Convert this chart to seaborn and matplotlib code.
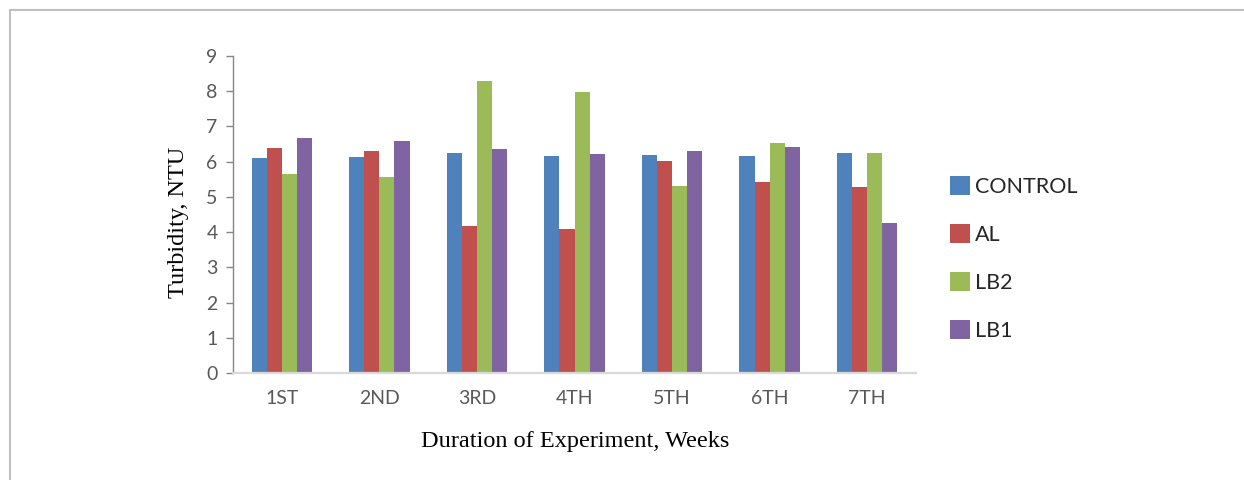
import matplotlib
matplotlib.use("Agg")
import matplotlib.pyplot as plt
from matplotlib.lines import Line2D
from matplotlib.patches import Patch
import seaborn as sns
import pandas as pd

weeks = ["1ST", "2ND", "3RD", "4TH", "5TH", "6TH", "7TH"]
series_names = ["CONTROL", "AL", "LB2", "LB1"]
control = [6.11, 6.13, 6.23, 6.17, 6.19, 6.17, 6.25]
al = [6.39, 6.31, 4.18, 4.09, 6.03, 5.41, 5.27]
lb2 = [5.65, 5.56, 8.27, 7.97, 5.30, 6.54, 6.25]
lb1 = [6.66, 6.59, 6.35, 6.22, 6.29, 6.42, 4.27]
colors = ["#4F81BD", "#C0504D", "#9BBB59", "#8064A2"]

rows = []
for name, vals in zip(series_names, [control, al, lb2, lb1]):
    for w, v in zip(weeks, vals):
        rows.append({"week": w, "series": name, "value": v})
df = pd.DataFrame(rows)

sns.set_theme(style="white")
plt.rcParams["font.family"] = ["Lato", "DejaVu Sans"]

W, H = 1244, 480
fig = plt.figure(figsize=(W / 100, H / 100), dpi=100)
ax = fig.add_axes([233 / W, 1 - 373.3 / H, (916 - 233) / W, (373.3 - 55.7) / H])

sns.barplot(data=df, x="week", y="value", hue="series", palette=colors,
            order=weeks, hue_order=series_names, width=0.62, saturation=1,
            ax=ax, legend=False, linewidth=0)

ax.set_xlim(-0.5, len(weeks) - 0.5)
ax.set_ylim(0, 9)
ax.set_yticks(range(0, 10))
ax.set_xlabel("")
ax.set_ylabel("")

for side in ["top", "right"]:
    ax.spines[side].set_visible(False)
ax.spines["left"].set_color("#868686")
ax.spines["left"].set_linewidth(1.0)
ax.spines["bottom"].set_color("#d9d9d9")
ax.spines["bottom"].set_linewidth(1.6)

ax.tick_params(axis="y", direction="out", length=5, width=1, color="#868686",
               labelcolor="#595959", labelsize=14, pad=6, left=True)
ax.tick_params(axis="x", length=0, labelcolor="#595959", labelsize=14, pad=12)

# Axis titles in a serif face
fig.text(575 / W, 1 - 441 / H, "Duration of Experiment, Weeks", ha="center",
         va="center", fontsize=17.5, family="Liberation Serif", color="black")
fig.text(178 / W, 1 - 222 / H, "Turbidity, NTU", ha="center", va="center",
         rotation=90, fontsize=17.5, family="Liberation Serif", color="black")

handles = [Patch(facecolor=c, edgecolor="none") for c in colors]
fig.legend(handles, series_names, loc="upper left",
           bbox_to_anchor=(950 / W, 1 - 176 / H), frameon=False,
           fontsize=15.5, handlelength=0.95, handleheight=0.95,
           handletextpad=0.2, labelspacing=1.27, borderpad=0, borderaxespad=0)

# Outer frame lines (left and top)
fig.add_artist(Line2D([9.5 / W, 9.5 / W], [0, 1 - 9.5 / H], color="#bfbfbf",
                      linewidth=1.5, transform=fig.transFigure))
fig.add_artist(Line2D([9.5 / W, 1], [1 - 9.5 / H, 1 - 9.5 / H], color="#bfbfbf",
                      linewidth=1.5, transform=fig.transFigure))

fig.savefig("out.png", dpi=100, facecolor="white")
